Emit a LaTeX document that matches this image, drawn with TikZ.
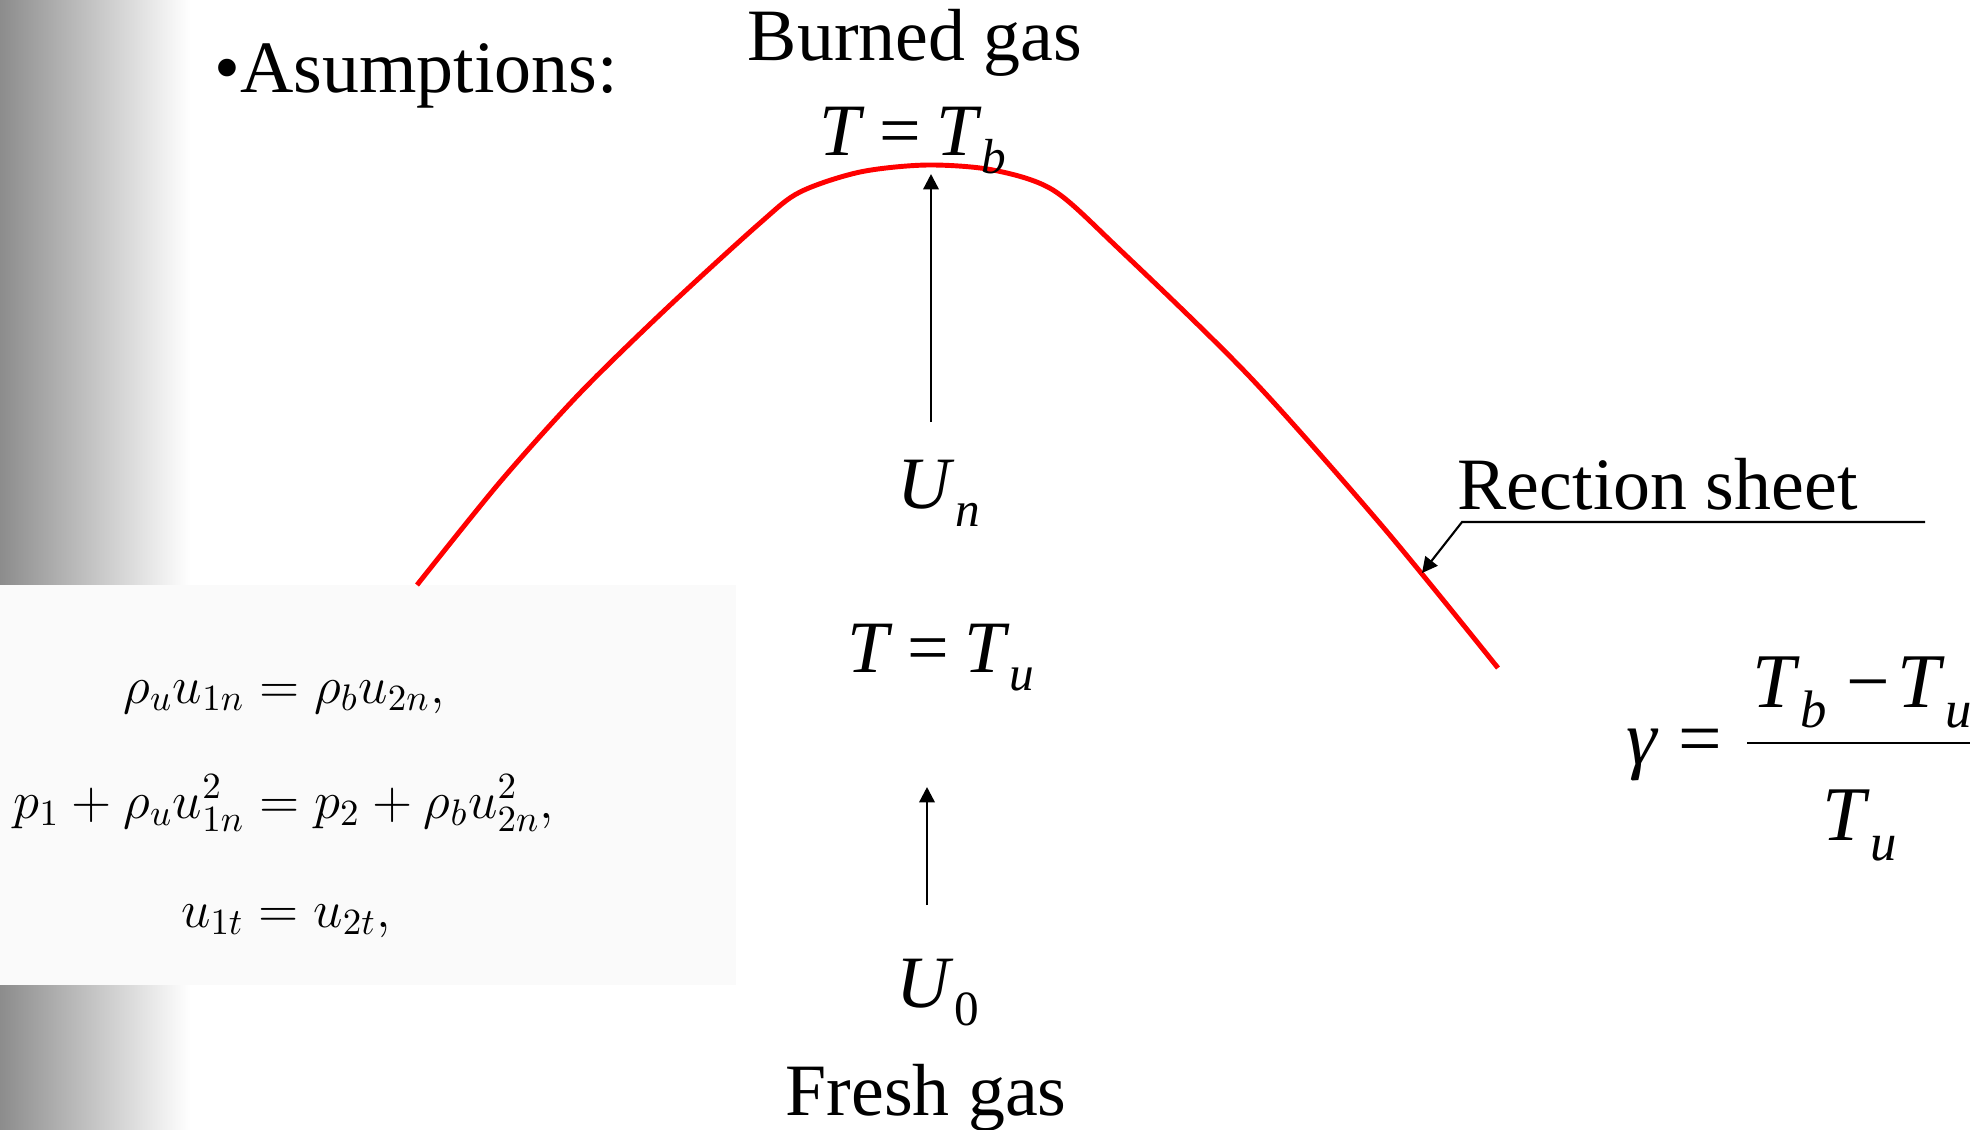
\RequirePackage{fix-cm}
\documentclass[tikz,border=0pt]{standalone}
\usepackage{fontspec}
\setmainfont{Liberation Serif}
\usetikzlibrary{arrows.meta}
\definecolor{grisfondo}{RGB}{140,140,140}
\definecolor{griscaja}{RGB}{250,250,250}
\newcommand{\subi}[1]{\raisebox{-5.2pt}{\fontsize{14}{14}\selectfont #1}}
\newcommand{\subg}[1]{\raisebox{-5.7pt}{\fontsize{15}{15}\selectfont #1}}
\newcommand{\igual}{\hspace{0.2em}=\hspace{0.2em}}
\begin{document}
\begin{tikzpicture}[x=0.01cm, y=-0.01cm,
    >={Triangle[length=4.4pt, width=4.4pt]},
    texto/.style={font=\fontsize{21}{25}\selectfont, inner sep=0pt, anchor=base west},
    grande/.style={font=\fontsize{22}{26}\selectfont, inner sep=0pt, anchor=base west},
    ecu/.style={font=\fontsize{15}{18}\selectfont, inner sep=0pt, anchor=base}]
  \useasboundingbox (0,0) rectangle (1982,1129);

  % Fondo: franja degradada y caja de ecuaciones
  \shade[left color=grisfondo, right color=white] (0,0) rectangle (190,1129);
  \fill[white] (190,0) rectangle (1982,1129);
  \fill[griscaja] (0,585) rectangle (736,985);

  % Frente de llama
  \draw[red, line width=1.4pt] plot[smooth, tension=0.5] coordinates
    {(417,585) (500,482) (580,393) (667,308) (760,223) (800,192) (860,172)
     (927,165) (993,170) (1053,190) (1117,247) (1250,377) (1383,527)
     (1498,668)};

  % Textos
  \node[texto] (asum) at (214,92) {•Asumptions:};
  \node[texto, anchor=base] (quemado) at (915,60) {Burned gas};
  \node[texto] (Tb) at (819,155) {\textit{T}\igual\textit{T}\subi{\textit{b}}};
  \node[texto] (Un) at (897,508) {\textit{U}\subi{\textit{n}}};
  \node[texto] (Tu) at (847,672) {\textit{T}\igual\textit{T}\subi{\textit{u}}};
  \node[texto] (U0) at (896,1007) {\textit{U}\subi{0}};
  \node[texto] (fresco) at (785,1115) {Fresh gas};
  \node[texto] (hoja) at (1457,509) {Rection sheet};

  % Flechas de velocidad
  \coordinate (arr1a) at (931,422);
  \coordinate (arr1b) at (931,174);
  \coordinate (arr2a) at (927,905);
  \coordinate (arr2b) at (927,787);
  \draw[->, line width=0.7pt] (arr1a) -- (arr1b);
  \draw[->, line width=0.7pt] (arr2a) -- (arr2b);

  % Indicador de la hoja de reaccion
  \coordinate (lin1) at (1925,522);
  \coordinate (lin2) at (1462,522);
  \coordinate (punta) at (1422,573);
  \draw[->, line width=0.6pt] (lin1) -- (lin2) -- (punta);

  % Ecuaciones de salto
  \node[ecu] (eq1) at (284,703) {$\rho_u u_{1n} = \rho_b u_{2n},$};
  \node[ecu] (eq2) at (284,818) {$p_1 + \rho_u u_{1n}^2 = p_2 + \rho_b u_{2n}^2,$};
  \node[ecu] (eq3) at (286,927) {$u_{1t} = u_{2t},$};

  % Parametro de expansion
  \node[grande] (gam) at (1626,764) {\textit{γ} =};
  \node[grande] (num) at (1752,707) {\textit{T}\subg{\textit{b}} −\hspace{0.1em}\textit{T}\subg{\textit{u}}};
  \node[grande] (den) at (1822,840) {\textit{T}\subg{\textit{u}}};
  \coordinate (bar1) at (1747,743);
  \coordinate (bar2) at (1970,743);
  \draw[line width=0.8pt] (bar1) -- (bar2);
\end{tikzpicture}
\end{document}
